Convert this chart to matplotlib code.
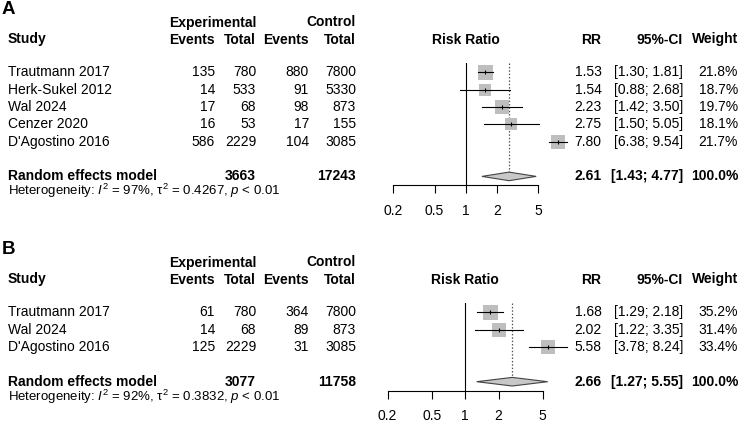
import matplotlib
matplotlib.use("Agg")
import matplotlib.pyplot as plt
from matplotlib.ticker import NullLocator

plt.rcParams['font.family'] = ['Liberation Sans', 'DejaVu Sans']
plt.rcParams['mathtext.fontset'] = 'custom'
plt.rcParams['mathtext.rm'] = 'Liberation Sans'
plt.rcParams['mathtext.it'] = 'Liberation Sans:italic'
plt.rcParams['mathtext.bf'] = 'Liberation Sans:bold'

# ---------------- data ----------------
A_studies = ["Trautmann 2017", "Herk-Sukel 2012", "Wal 2024", "Cenzer 2020", "D'Agostino 2016"]
A_exp_events = [135, 14, 17, 16, 586]
A_exp_total = [780, 533, 68, 53, 2229]
A_ctl_events = [880, 91, 98, 17, 104]
A_ctl_total = [7800, 5330, 873, 155, 3085]
A_rr = [1.53, 1.54, 2.23, 2.75, 7.80]
A_lo = [1.30, 0.88, 1.42, 1.50, 6.38]
A_hi = [1.81, 2.68, 3.50, 5.05, 9.54]
A_weight = [21.8, 18.7, 19.7, 18.1, 21.7]
A_pooled = [2.61, 1.43, 4.77]
A_totals = [3663, 17243]
A_het = ["97%", "0.4267", "< 0.01"]

B_studies = ["Trautmann 2017", "Wal 2024", "D'Agostino 2016"]
B_exp_events = [61, 14, 125]
B_exp_total = [780, 68, 2229]
B_ctl_events = [364, 89, 31]
B_ctl_total = [7800, 873, 3085]
B_rr = [1.68, 2.02, 5.58]
B_lo = [1.29, 1.22, 3.78]
B_hi = [2.18, 3.35, 8.24]
B_weight = [35.2, 31.4, 33.4]
B_pooled = [2.66, 1.27, 5.55]
B_totals = [3077, 11758]
B_het = ["92%", "0.3832", "< 0.01"]

tick_values = [0.2, 0.5, 1, 2, 5]
tick_labels = ["0.2", "0.5", "1", "2", "5"]

# ---------------- layout ----------------
W, H = 740, 423
fig = plt.figure(figsize=(W / 100, H / 100), dpi=100)
tax = fig.add_axes([0, 0, 1, 1])
tax.set_xlim(0, W)
tax.set_ylim(H, 0)
tax.axis('off')

FS = 10
X_STUDY = 8
X_EEV, X_ETOT, X_CEV, X_CTOT = 215, 256, 309, 356
X_RR, X_CI, X_W = 601.5, 683, 738
DY = 17.35


def txt(x, y, s, ha='left', bold=False, size=FS):
    tax.text(x, y, s, ha=ha, va='center', fontsize=size,
             fontweight='bold' if bold else 'normal', color='black')


def panel(letter, top, ax_left, ax_right, studies, ee, et, ce, ct, rr, lo, hi, w,
          pooled, totals, het):
    y_title = top + 10
    y_h1 = top + 22.5
    y_h2 = top + 39.5
    y0 = top + 72.3
    rows = [y0 + i * DY for i in range(len(studies))]
    y_pool = rows[-1] + 2 * DY
    y_het = y_pool + 15
    y_axis = y_pool + 8.8
    y_ftop = y0 - 9

    txt(2, y_title, letter, bold=True, size=13.5)
    txt(X_ETOT, y_h1, "Experimental", ha='right', bold=True)
    txt(X_CTOT, y_h1, "Control", ha='right', bold=True)
    txt(X_STUDY, y_h2, "Study", bold=True)
    txt(X_EEV, y_h2, "Events", ha='right', bold=True)
    txt(X_ETOT, y_h2, "Total", ha='right', bold=True)
    txt(X_CEV, y_h2, "Events", ha='right', bold=True)
    txt(X_CTOT, y_h2, "Total", ha='right', bold=True)
    txt(X_RR, y_h2, "RR", ha='right', bold=True)
    txt(X_CI, y_h2, "95%-CI", ha='right', bold=True)
    txt(X_W, y_h2, "Weight", ha='right', bold=True)

    for i, y in enumerate(rows):
        txt(X_STUDY, y, studies[i])
        txt(X_EEV, y, str(ee[i]), ha='right')
        txt(X_ETOT, y, str(et[i]), ha='right')
        txt(X_CEV, y, str(ce[i]), ha='right')
        txt(X_CTOT, y, str(ct[i]), ha='right')
        txt(X_RR, y, "%.2f" % rr[i], ha='right')
        txt(X_CI, y, "[%.2f; %.2f]" % (lo[i], hi[i]), ha='right')
        txt(X_W, y, "%.1f%%" % w[i], ha='right')

    txt(X_STUDY, y_pool, "Random effects model", bold=True)
    txt(X_ETOT, y_pool, str(totals[0]), ha='right', bold=True)
    txt(X_CTOT, y_pool, str(totals[1]), ha='right', bold=True)
    txt(X_RR, y_pool, "%.2f" % pooled[0], ha='right', bold=True)
    txt(X_CI, y_pool, "[%.2f; %.2f]" % (pooled[1], pooled[2]), ha='right', bold=True)
    txt(X_W, y_pool, "100.0%", ha='right', bold=True)
    txt(X_STUDY, y_het,
        r"Heterogeneity: $I^2$ = %s, τ$^2$ = %s, $p$ %s" % (het[0], het[1], het[2]),
        size=9.5)

    # forest axes
    rect = [ax_left / W, 1 - y_axis / H, (ax_right - ax_left) / W, (y_axis - y_ftop) / H]
    ax = fig.add_axes(rect)
    ax.patch.set_alpha(0)
    ax.set_xscale('log')
    ax.set_xlim(0.2, 5)
    ax.set_ylim(y_axis, y_ftop)
    for s in ['top', 'left', 'right']:
        ax.spines[s].set_visible(False)
    ax.spines['bottom'].set_linewidth(0.8)
    ax.set_xticks(tick_values)
    ax.set_xticklabels(tick_labels)
    ax.xaxis.set_minor_locator(NullLocator())
    ax.tick_params(axis='x', direction='out', length=5.8, width=0.8, labelsize=FS, pad=7.5)
    ax.set_yticks([])
    ax.text(1, y_h2, "Risk Ratio", ha='center', va='center', fontsize=FS,
            fontweight='bold', transform=ax.get_xaxis_transform() if False else ax.transData,
            clip_on=False)

    ax.axvline(1, color='black', lw=0.8, zorder=1)
    ax.plot([pooled[0], pooled[0]], [y_ftop, y_pool], color='#555555', lw=0.9,
            ls=(0, (1.2, 1.5)), zorder=1)

    wmax = max(w)
    for i, y in enumerate(rows):
        side = 10.8 * w[i] / wmax
        ax.plot([rr[i]], [y], marker='s', ms=side, color='#BEBEBE', mew=0,
                zorder=2, clip_on=False)
        ax.plot([lo[i], hi[i]], [y, y], color='black', lw=0.8, zorder=3, clip_on=False)
        ax.plot([rr[i]], [y], marker='|', ms=3.5, mew=0.8, color='black',
                zorder=4, clip_on=False)

    hh = 4.3
    ax.fill([pooled[1], pooled[0], pooled[2], pooled[0]],
            [y_pool, y_pool - hh, y_pool, y_pool + hh],
            facecolor='#C8C8C8', edgecolor='#444444', lw=0.8, zorder=3, clip_on=False)


panel("A", 0, 393.3, 538.3, A_studies, A_exp_events, A_exp_total, A_ctl_events,
      A_ctl_total, A_rr, A_lo, A_hi, A_weight, A_pooled, A_totals, A_het)
panel("B", 240, 387.5, 542.7, B_studies, B_exp_events, B_exp_total, B_ctl_events,
      B_ctl_total, B_rr, B_lo, B_hi, B_weight, B_pooled, B_totals, B_het)

fig.savefig("out.png", dpi=100)
